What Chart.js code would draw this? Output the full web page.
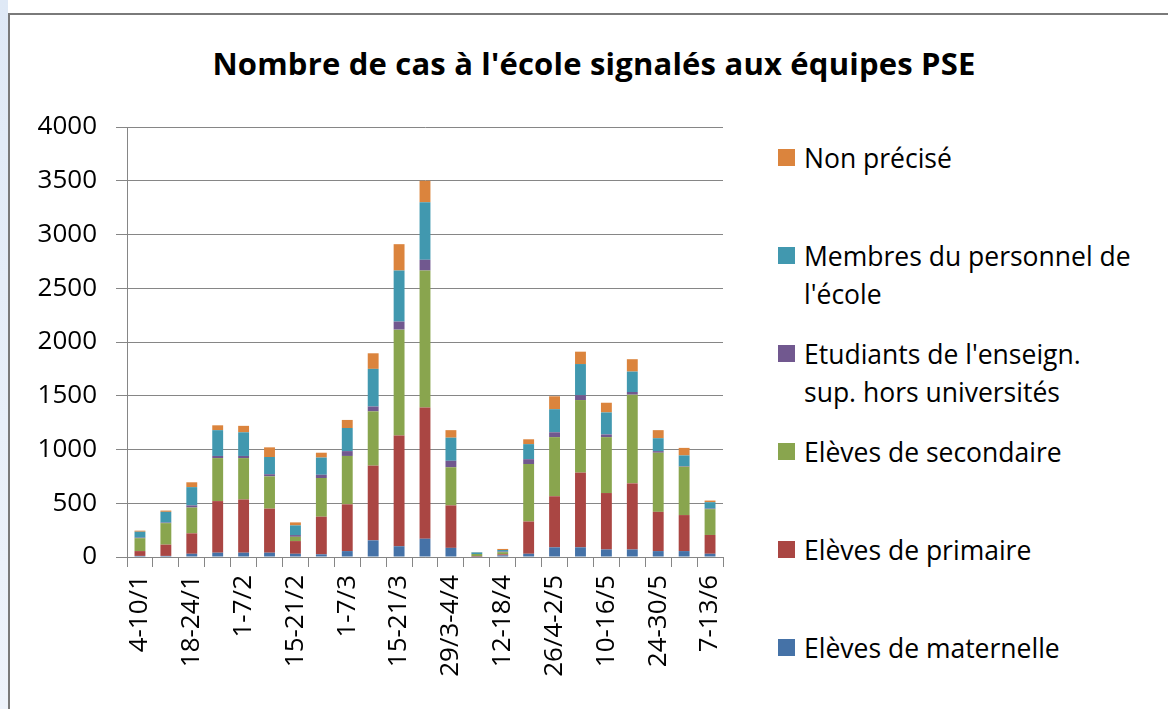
<!DOCTYPE html>
<html>
<head>
<meta charset="utf-8">
<script src="https://cdn.jsdelivr.net/npm/chart.js@4"></script>
<style>
  html, body { margin: 0; padding: 0; }
  body { width: 1168px; height: 709px; position: relative; overflow: hidden; background: #fff; font-family: "Open Sans", sans-serif; }
  #strip { position: absolute; left: 0; top: 0; width: 8px; height: 709px; background: linear-gradient(#dfe9f6, #eef3fb); }
  #frame { position: absolute; left: 8px; top: 13px; width: 1170px; height: 710px; border-left: 2px solid #7a7a7a; border-top: 2px solid #7a7a7a; }
  #title { position: absolute; left: 20px; width: 1148px; top: 42px; text-align: center; font-weight: bold; font-size: 31px; color: #000; line-height: 42px; letter-spacing: 0.2px; }
  #wrap { position: absolute; left: 0; top: 0; width: 760px; height: 709px; }
  .item { position: absolute; left: 778px; font-size: 26.5px; line-height: 38px; color: #000; }
  .item span.box { position: absolute; left: 0; top: 10px; width: 17px; height: 17px; }
  .item div { margin-left: 26px; white-space: nowrap; }
</style>
</head>
<body>
<div id="strip"></div>
<div id="frame"></div>
<div id="title">Nombre de cas à l'école signalés aux équipes PSE</div>
<div id="wrap"><canvas id="chart"></canvas></div>
<div id="legend"></div>
<script>
const weeks = ['4-10/1', '11-17/1', '18-24/1', '25-31/1', '1-7/2', '8-14/2', '15-21/2', '22-28/2',
  '1-7/3', '8-14/3', '15-21/3', '22-28/3', '29/3-4/4', '5-11/4', '12-18/4', '19-25/4',
  '26/4-2/5', '3-9/5', '10-16/5', '17-23/5', '24-30/5', '31/5-6/6', '7-13/6'];

const maternelle = [10, 10, 30, 40, 40, 40, 30, 25, 55, 155, 100, 170, 85, 3, 15, 30, 90, 90, 70, 70, 55, 55, 30];
const primaire   = [45, 105, 190, 480, 495, 410, 118, 350, 435, 695, 1030, 1220, 395, 5, 10, 300, 475, 695, 525, 615, 365, 335, 175];
const secondaire = [120, 200, 240, 400, 385, 300, 40, 360, 450, 505, 985, 1275, 355, 20, 20, 535, 550, 675, 520, 825, 550, 450, 240];
const etudiants  = [5, 5, 20, 20, 20, 20, 16, 30, 45, 45, 75, 100, 60, 0, 5, 45, 45, 45, 25, 25, 15, 5, 5];
const personnel  = [55, 100, 170, 240, 220, 160, 90, 160, 215, 350, 475, 535, 215, 15, 15, 140, 215, 290, 205, 190, 120, 100, 60];
const nonPrecise = [10, 12, 45, 45, 60, 90, 28, 45, 75, 145, 245, 200, 70, 2, 10, 45, 120, 115, 90, 115, 75, 70, 15];

const series = [
  { label: 'Elèves de maternelle', data: maternelle, color: '#4572A7', top: 629 },
  { label: 'Elèves de primaire', data: primaire, color: '#AA4643', top: 531 },
  { label: 'Elèves de secondaire', data: secondaire, color: '#89A54E', top: 433 },
  { label: ['Etudiants de l\'enseign.', 'sup. hors universités'], data: etudiants, color: '#71588F', top: 335 },
  { label: ['Membres du personnel de', 'l\'école'], data: personnel, color: '#4198AF', top: 237 },
  { label: 'Non précisé', data: nonPrecise, color: '#DB843D', top: 139 }
];

const legend = document.getElementById('legend');
series.forEach(s => {
  const el = document.createElement('div');
  el.className = 'item';
  el.style.top = s.top + 'px';
  const lines = Array.isArray(s.label) ? s.label : [s.label];
  el.innerHTML = '<span class="box" style="background:' + s.color + '"></span><div>' + lines.join('<br>') + '</div>';
  legend.appendChild(el);
});

const tickFont = { family: 'Open Sans', size: 26 };

new Chart(document.getElementById('chart'), {
  type: 'bar',
  data: {
    labels: weeks,
    datasets: series.map(s => ({
      label: Array.isArray(s.label) ? s.label.join(' ') : s.label,
      data: s.data,
      backgroundColor: s.color,
      barPercentage: 0.42,
      categoryPercentage: 1
    }))
  },
  options: {
    responsive: true,
    maintainAspectRatio: false,
    animation: false,
    layout: { padding: { left: 0, top: 127, right: 37, bottom: 0 } },
    plugins: { legend: { display: false }, tooltip: { enabled: false } },
    scales: {
      x: {
        stacked: true,
        afterFit: s => { s.height = 152; },
        grid: { drawOnChartArea: false, drawTicks: true, tickLength: 10, color: '#868686' },
        border: { display: true, color: '#868686' },
        ticks: {
          autoSkip: false, minRotation: 90, maxRotation: 90, padding: 8,
          color: '#000', font: tickFont,
          callback: (v, i) => i % 2 === 0 ? weeks[i] : ''
        }
      },
      y: {
        stacked: true,
        min: 0, max: 4000,
        afterFit: s => { s.width = 127; },
        grid: { color: '#868686', tickLength: 11 },
        border: { display: true, color: '#868686' },
        ticks: { stepSize: 500, padding: 19, color: '#000', font: tickFont, callback: v => String(v) }
      }
    }
  }
});
</script>
</body>
</html>
